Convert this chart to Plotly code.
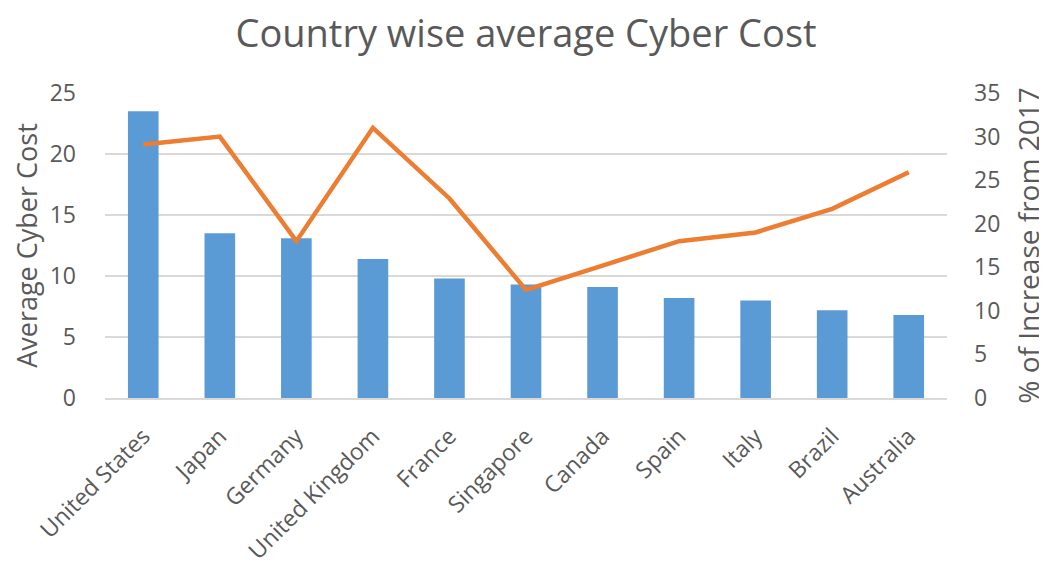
import plotly.graph_objects as go

countries = ["United States", "Japan", "Germany", "United Kingdom", "France",
             "Singapore", "Canada", "Spain", "Italy", "Brazil", "Australia"]
avg_cost = [23.5, 13.5, 13.1, 11.4, 9.8, 9.3, 9.1, 8.2, 8.0, 7.2, 6.8]
pct_increase = [29.1, 30.0, 18.0, 31.0, 22.9, 12.4, 15.2, 18.0, 19.0, 21.7, 25.9]

font_family = "'Open Sans', sans-serif"
grey = "#595959"

fig = go.Figure()
fig.add_trace(go.Bar(
    x=countries, y=avg_cost, marker_color="#5B9BD5", marker_line_width=0,
    name="Average Cyber Cost", yaxis="y"))
fig.add_trace(go.Scatter(
    x=countries, y=pct_increase, mode="lines",
    line=dict(color="#ED7D31", width=4.5), name="% of Increase from 2017",
    yaxis="y2"))

fig.update_layout(
    width=1047, height=567,
    margin=dict(l=97, r=108, t=85, b=177),
    paper_bgcolor="white", plot_bgcolor="white",
    showlegend=False, bargap=0.6,
    font=dict(family=font_family, color=grey, size=20),
    title=dict(text="Country wise average Cyber Cost", x=0.5, xref="paper",
               xanchor="center", y=0.955, yanchor="middle",
               font=dict(size=38, color=grey, family=font_family)),
    xaxis=dict(tickangle=-45, showgrid=False, showline=True, automargin=False,
               linecolor="#d9d9d9", linewidth=1.5, ticks="",
               ticklabelstandoff=14,
               tickfont=dict(size=23, color=grey)),
    yaxis=dict(range=[0, 25], dtick=5, showgrid=True, gridcolor="#d9d9d9",
               gridwidth=1.5, zeroline=False, ticks="", ticklabelstandoff=28,
               automargin=False,
               tickfont=dict(size=23, color=grey),
               title=dict(text="Average Cyber Cost", standoff=14,
                          font=dict(size=27, color=grey))),
    yaxis2=dict(range=[0, 35], dtick=5, overlaying="y", side="right",
                showgrid=False, zeroline=False, ticks="", ticklabelstandoff=26,
                automargin=False,
                tickfont=dict(size=23, color=grey),
                title=dict(text="% of Increase from 2017", standoff=20,
                           font=dict(size=28, color=grey))),
)

fig.write_html("out.html")
